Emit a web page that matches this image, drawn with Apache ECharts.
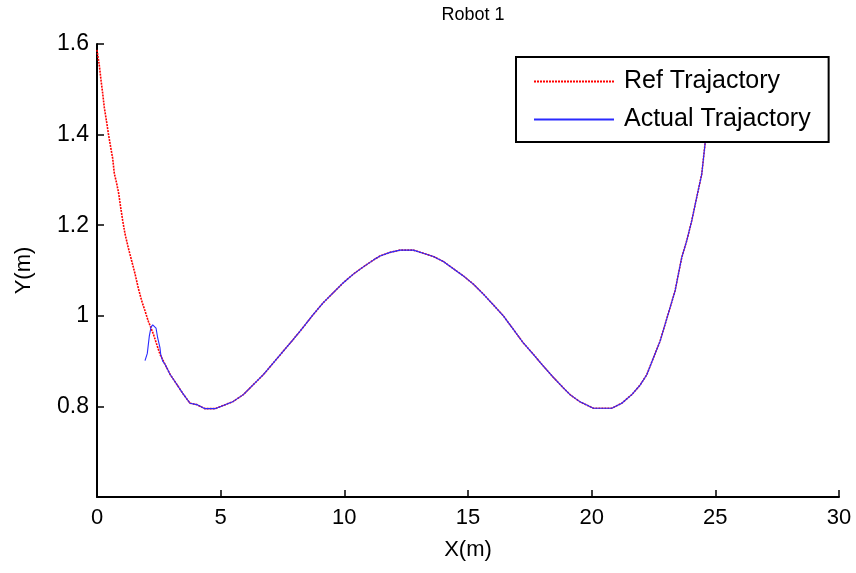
<!DOCTYPE html>
<html>
<head>
<meta charset="utf-8">
<script src="https://cdn.jsdelivr.net/npm/echarts@6/dist/echarts.min.js"></script>
<style>
html,body{margin:0;padding:0;background:#fff;}
#chart{width:856px;height:573px;}
</style>
</head>
<body>
<div id="chart"></div>
<script>
// Reference trajectory (X in m)
const refX = [0, 0.093, 0.162, 0.230, 0.295, 0.392, 0.457, 0.554, 0.635, 0.700, 0.797, 0.877, 0.958, 1.039, 1.132, 1.266, 1.403, 1.537, 1.670, 1.807, 1.941, 2.074, 2.277, 2.414, 2.547, 2.750, 2.952, 3.223, 3.489, 3.761, 4.031, 4.367, 4.771, 5.107, 5.511, 5.916, 6.320, 6.724, 7.129, 7.533, 7.937, 8.342, 8.746, 9.150, 9.555, 9.959, 10.364, 10.768, 11.172, 11.443, 11.848, 12.252, 12.790, 13.194, 13.599, 14.003, 14.407, 14.812, 15.216, 15.620, 16.025, 16.429, 16.834, 17.238, 17.642, 18.047, 18.451, 18.855, 19.126, 19.531, 20.068, 20.812, 21.217, 21.621, 21.957, 22.228, 22.495, 22.766, 22.968, 23.170, 23.372, 23.506, 23.643, 23.845, 24.047, 24.249, 24.451, 24.585, 24.700, 24.800];
// Reference trajectory (Y in m)
const refY = [1.587, 1.553, 1.520, 1.491, 1.460, 1.427, 1.403, 1.372, 1.347, 1.314, 1.292, 1.270, 1.239, 1.210, 1.181, 1.150, 1.121, 1.093, 1.061, 1.033, 1.011, 0.988, 0.960, 0.937, 0.915, 0.893, 0.871, 0.849, 0.827, 0.807, 0.804, 0.795, 0.795, 0.802, 0.811, 0.826, 0.848, 0.870, 0.896, 0.922, 0.948, 0.975, 1.003, 1.029, 1.051, 1.073, 1.092, 1.108, 1.123, 1.132, 1.140, 1.145, 1.145, 1.138, 1.131, 1.120, 1.104, 1.088, 1.070, 1.048, 1.024, 1.000, 0.970, 0.940, 0.915, 0.889, 0.864, 0.841, 0.826, 0.810, 0.796, 0.796, 0.807, 0.826, 0.847, 0.870, 0.907, 0.944, 0.981, 1.018, 1.055, 1.092, 1.129, 1.166, 1.210, 1.262, 1.313, 1.380, 1.430, 1.470];
// Actual trajectory: initial transient, then it tracks the reference
const actStartX = [1.941, 2.034, 2.115, 2.184, 2.252, 2.386, 2.454, 2.547, 2.576, 2.657];
const actStartY = [0.901, 0.917, 0.955, 0.975, 0.980, 0.973, 0.951, 0.929, 0.915, 0.900];
const trackFromIndex = 25; // reference point index where actual joins ref

const xTicks = { min: 0, max: 30, interval: 5 };
const yTicks = { min: 0.6, max: 1.6, interval: 0.2 };

const refData = refX.map((x, i) => [x, refY[i]]);
const actData = actStartX.map((x, i) => [x, actStartY[i]])
  .concat(refData.slice(trackFromIndex));

const chart = echarts.init(document.getElementById('chart'), null, { renderer: 'canvas' });
const font = '"Liberation Sans", Arial, Helvetica, sans-serif';
chart.setOption({
  animation: false,
  backgroundColor: '#ffffff',
  title: {
    text: 'Robot 1',
    left: 468,
    textAlign: 'center',
    top: 1,
    textStyle: { fontFamily: font, fontSize: 18, fontWeight: 'normal', color: '#000' }
  },
  legend: {
    orient: 'vertical',
    left: 516,
    top: 57,
    padding: [12, 18, 10, 17],
    itemWidth: 80,
    itemHeight: 14,
    itemGap: 13,
    borderColor: '#000',
    borderWidth: 2,
    borderRadius: 0,
    backgroundColor: '#fff',
    itemStyle: { opacity: 0 },
    textStyle: { fontFamily: font, fontSize: 25, color: '#000', lineHeight: 25, padding: [0, 0, 0, 5] },
    data: ['Ref Trajactory', 'Actual Trajactory']
  },
  grid: { left: 97, right: 17, top: 44, bottom: 76, containLabel: false },
  xAxis: {
    type: 'value',
    min: xTicks.min, max: xTicks.max, interval: xTicks.interval,
    name: 'X(m)', nameLocation: 'middle', nameGap: 42,
    nameTextStyle: { fontFamily: font, fontSize: 22, color: '#000' },
    axisLine: { lineStyle: { color: '#000', width: 2 } },
    axisTick: { inside: true, length: 7, lineStyle: { color: '#000', width: 1.5 } },
    axisLabel: { fontFamily: font, fontSize: 22, color: '#000', margin: 10 },
    splitLine: { show: false }
  },
  yAxis: {
    type: 'value',
    min: yTicks.min, max: yTicks.max, interval: yTicks.interval,
    name: 'Y(m)', nameLocation: 'middle', nameGap: 62, nameRotate: 90,
    nameTextStyle: { fontFamily: font, fontSize: 22, color: '#000' },
    axisLine: { lineStyle: { color: '#000', width: 2 } },
    axisTick: { inside: true, length: 7, lineStyle: { color: '#000', width: 1.5 } },
    axisLabel: {
      fontFamily: font, fontSize: 23, color: '#000', margin: 8,
      formatter: v => Math.abs(v - 0.6) < 1e-6 ? '' : (Math.abs(v - 1) < 1e-6 ? '1' : v.toFixed(1))
    },
    splitLine: { show: false }
  },
  series: [
    {
      name: 'Ref Trajactory', type: 'line', data: refData,
      symbol: 'none', showSymbol: false,
      lineStyle: { color: '#ff0000', width: 1.6, type: [2, 1] },
      itemStyle: { color: '#ff0000' }
    },
    {
      name: 'Actual Trajactory', type: 'line', data: actData,
      symbol: 'none', showSymbol: false,
      lineStyle: { color: '#2a2aff', width: 1.1 },
      itemStyle: { color: '#2a2aff' }
    }
  ]
});
</script>
</body>
</html>
